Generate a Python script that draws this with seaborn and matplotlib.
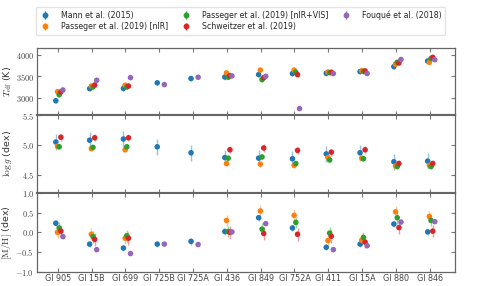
import numpy as np
import pandas as pd
import matplotlib
matplotlib.use("Agg")
import matplotlib.pyplot as plt
import seaborn as sns
from matplotlib.ticker import FuncFormatter

# --- data ---
stars = ["Gl 905", "Gl 15B", "Gl 699", "Gl 725B", "Gl 725A", "Gl 436",
         "Gl 849", "Gl 752A", "Gl 411", "Gl 15A", "Gl 880", "Gl 846"]
nan = np.nan

mann_teff = [2930, 3210, 3215, 3345, 3445, 3480, 3535, 3560, 3565, 3605, 3720, 3850]
mann_logg = [5.05, 5.08, 5.10, 4.97, 4.87, 4.79, 4.78, 4.77, 4.85, 4.87, 4.72, 4.73]
mann_mh = [0.23, -0.30, -0.40, -0.30, -0.23, 0.02, 0.37, 0.11, -0.38, -0.30, 0.21, 0.01]

nir_teff = [3140, 3270, 3290, nan, nan, 3575, 3640, 3640, 3595, 3625, 3775, 3820]
nir_logg = [4.98, 4.94, 4.92, nan, nan, 4.69, 4.68, 4.66, 4.79, 4.78, 4.65, 4.66]
nir_mh = [0.00, -0.05, -0.15, nan, nan, 0.30, 0.54, 0.43, -0.21, -0.20, 0.52, 0.40]

vis_teff = [3070, 3250, 3250, nan, nan, 3475, 3420, 3590, 3580, 3610, 3820, 3910]
vis_logg = [4.97, 4.96, 4.97, nan, nan, 4.78, 4.80, 4.69, 4.75, 4.77, 4.64, 4.64]
vis_mh = [0.11, -0.11, -0.09, nan, nan, 0.02, 0.08, 0.25, -0.02, -0.13, 0.37, 0.30]

sch_teff = [3135, 3295, 3270, nan, nan, 3510, 3465, 3535, 3590, 3620, 3805, 3935]
sch_logg = [5.13, 5.12, 5.12, nan, nan, 4.92, 4.95, 4.91, 4.88, 4.92, 4.69, 4.69]
sch_mh = [0.03, -0.18, -0.15, nan, nan, 0.00, -0.03, -0.05, -0.10, -0.25, 0.12, 0.03]

fou_teff = [3180, 3405, 3465, 3305, 3475, 3505, 3495, 2750, 3560, 3560, 3885, 3880]
fou_logg = [nan] * 12
fou_mh = [-0.11, -0.44, -0.54, -0.30, -0.31, 0.01, 0.22, nan, -0.44, -0.34, 0.26, 0.27]

labels = ["Mann et al. (2015)", "Passeger et al. (2019) [nIR]",
          "Passeger et al. (2019) [nIR+VIS]", "Schweitzer et al. (2019)",
          "Fouqué et al. (2018)"]
teff = [mann_teff, nir_teff, vis_teff, sch_teff, fou_teff]
logg = [mann_logg, nir_logg, vis_logg, sch_logg, fou_logg]
mh = [mann_mh, nir_mh, vis_mh, sch_mh, fou_mh]
# uncertainties per source (teff, logg, mh)
err_teff = [60, 50, 50, 50, 0]
err_logg = [0.13, 0.04, 0.04, 0.06, 0]
err_mh = [0.08, 0.15, 0.15, 0.16, 0]

# long-form table
rows = []
for k, lab in enumerate(labels):
    for i, s in enumerate(stars):
        rows.append({"source": lab, "star": s, "idx": i,
                     "teff": teff[k][i], "logg": logg[k][i], "mh": mh[k][i],
                     "e_teff": err_teff[k], "e_logg": err_logg[k], "e_mh": err_mh[k]})
df = pd.DataFrame(rows)
offsets = dict(zip(labels, [-0.06, -0.01, 0.04, 0.09, 0.15]))
df["x"] = df["idx"] + df["source"].map(offsets)

sns.set_style("ticks")
plt.rcParams["mathtext.fontset"] = "cm"
palette = sns.color_palette("tab10", 5)
colors = dict(zip(labels, palette))

fig = plt.figure(figsize=(4.79, 2.86), dpi=100)
gs = fig.add_gridspec(3, 1, height_ratios=[68, 79, 80], hspace=0,
                      left=0.077, right=0.95, top=0.832, bottom=0.05)
axes = [fig.add_subplot(gs[i]) for i in range(3)]

params = [("teff", "e_teff", r"$T_{\rm eff}$ (K)", (2600, 4150), [3000, 3500, 4000]),
          ("logg", "e_logg", r"$\log g$ (dex)", (4.2, 5.5), [4.5, 5.0, 5.5]),
          ("mh", "e_mh", r"$[{\rm M/H}]$ (dex)", (-1.0, 1.0), [-1.0, -0.5, 0.0, 0.5, 1.0])]

def yfmt(v, p):
    if abs(v) < 100:
        return r"$%.1f$" % v
    return r"$%d$" % v

for ax, (col, ecol, ylab, ylim, yt) in zip(axes, params):
    for lab in labels:
        d = df[df["source"] == lab].dropna(subset=[col])
        if len(d) == 0:
            continue
        ax.errorbar(d["x"], d[col], yerr=d[ecol], fmt="none",
                    ecolor=colors[lab], elinewidth=1.0, alpha=0.45, zorder=2)
    sns.scatterplot(data=df.dropna(subset=[col]), x="x", y=col, hue="source",
                    hue_order=labels, palette=palette, s=16, marker="o",
                    edgecolor="none", legend=False, ax=ax, zorder=3)
    ax.set_ylim(*ylim)
    ax.set_yticks(yt)
    ax.yaxis.set_major_formatter(FuncFormatter(yfmt))
    ax.set_ylabel(ylab, fontsize=6.8, labelpad=1, color="#333333")
    ax.set_xlim(-0.62, 11.75)
    ax.set_xticks(range(len(stars)))
    ax.set_xlabel("")
    ax.tick_params(axis="both", direction="in", top=True, right=True,
                   length=3, width=0.8, colors="#777777", labelcolor="#444444",
                   labelsize=6, pad=2)
    for sp in ax.spines.values():
        sp.set_color("#666666")
        sp.set_linewidth(0.9)
axes[0].spines["bottom"].set_linewidth(1.5)
axes[1].spines["top"].set_linewidth(1.5)
axes[1].spines["bottom"].set_linewidth(1.5)
axes[2].spines["top"].set_linewidth(1.5)
for ax in axes[:2]:
    ax.set_xticklabels([])
axes[2].set_xticklabels(stars, fontsize=5.8)
axes[2].tick_params(axis="x", pad=1.5)
fig.align_ylabels(axes)

# legend proxies: point with vertical error bar
handles = []
for lab in labels:
    h = axes[0].errorbar([nan], [nan], yerr=[0.1], fmt="o", ms=3.2, color=colors[lab],
                         elinewidth=1.0)
    handles.append(h)
fig.legend(handles, labels, loc="upper center", bbox_to_anchor=(0.502, 0.99),
           ncol=3, fontsize=5.7, frameon=True, edgecolor="#dddddd",
           handletextpad=1.3, columnspacing=1.6, borderpad=0.45,
           labelspacing=0.3, handlelength=1.4)

fig.savefig("out.png", dpi=100)
